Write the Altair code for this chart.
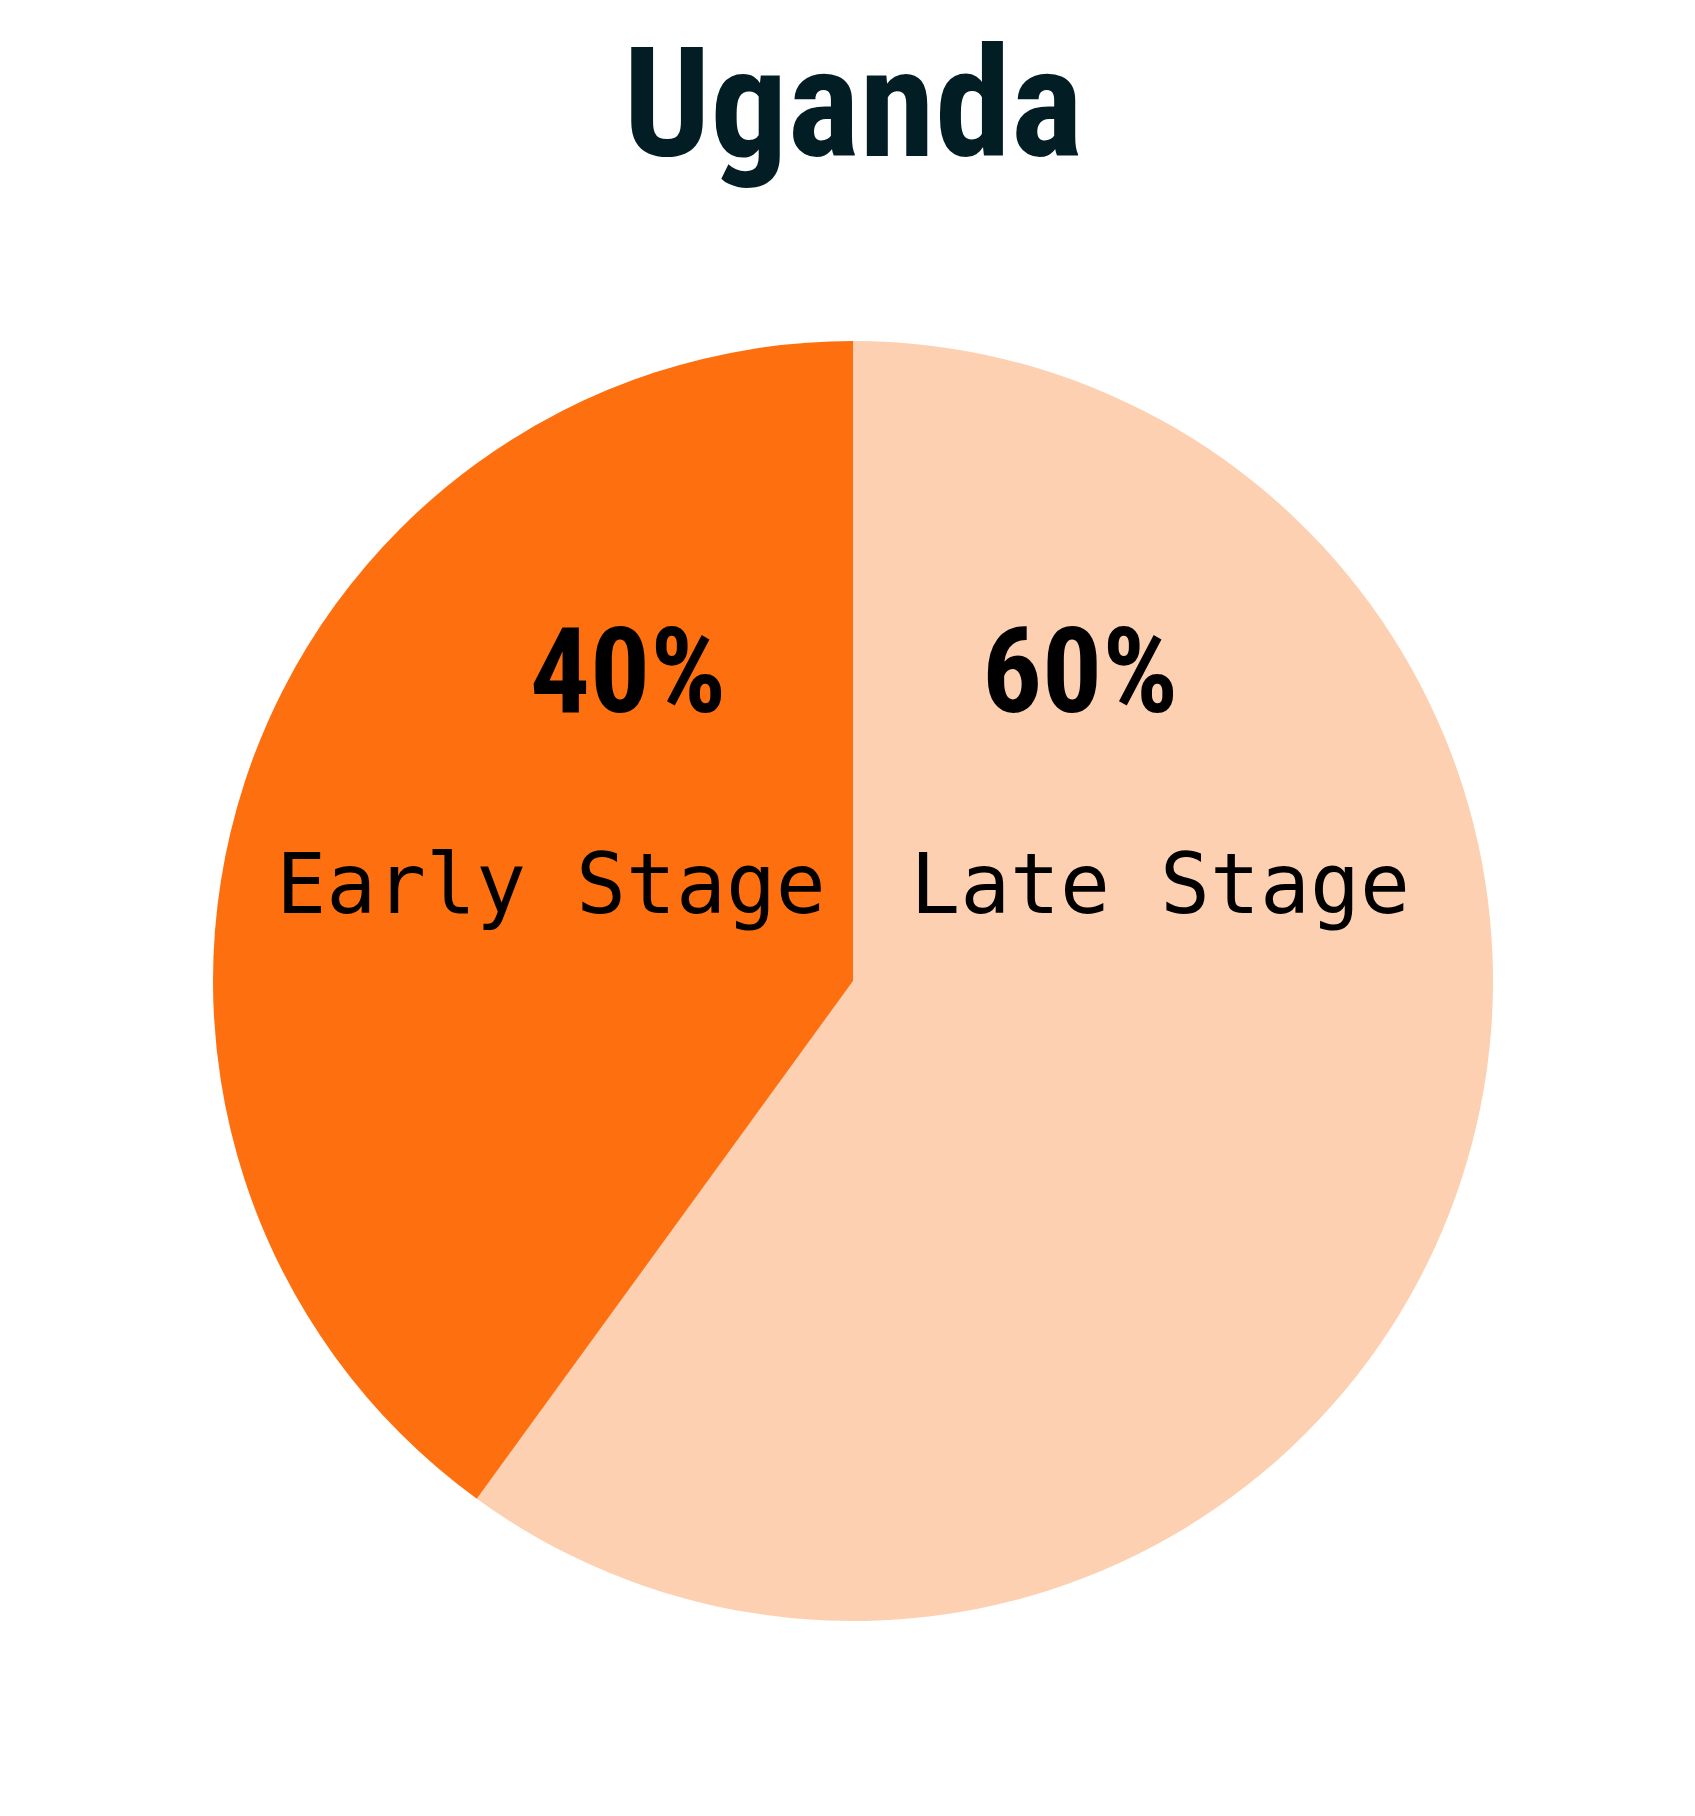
import altair as alt
import pandas as pd

# ---- data ----
categories = ["Late Stage", "Early Stage"]
shares = [60, 40]
colors = ["#fdd0b1", "#fe6f10"]
chart_title = "Uganda"

df = pd.DataFrame({"stage": categories, "share": shares, "rank": list(range(len(categories)))})

# ---- layout / style ----
W, H = 1679, 1800
CX, CY = 845, 973
R = 640
COND = "Roboto Condensed, Liberation Sans Narrow, Arial Narrow, sans-serif"
MONO = "DejaVu Sans Mono, monospace"
pct_pos = {"Late Stage": (1072, 704), "Early Stage": (620, 704)}
name_pos = {"Late Stage": (1152, 905), "Early Stage": (543, 905)}

pie = alt.Chart(df).mark_arc(radius=R, stroke=None).encode(
    theta=alt.Theta("share:Q", stack=True),
    color=alt.Color("stage:N", scale=alt.Scale(domain=categories, range=colors), legend=None),
    order=alt.Order("rank:Q"),
    x=alt.value(CX),
    y=alt.value(CY),
)

layers = [pie]
for cat in categories:
    px, py = pct_pos[cat]
    nx, ny = name_pos[cat]
    layers.append(
        alt.Chart(df).transform_filter(alt.datum.stage == cat)
        .transform_calculate(lbl="datum.share + '%'")
        .mark_text(font=COND, fontSize=119, fontWeight="bold", align="center",
                   baseline="alphabetic", color="#000000")
        .encode(text="lbl:N", x=alt.value(px), y=alt.value(py))
    )
    layers.append(
        alt.Chart(df).transform_filter(alt.datum.stage == cat)
        .mark_text(font=MONO, fontSize=83, align="center", baseline="alphabetic", color="#000000")
        .encode(text="stage:N", x=alt.value(nx), y=alt.value(ny))
    )

title_layer = alt.Chart(pd.DataFrame({"t": [chart_title]})).mark_text(
    font=COND, fontSize=153, fontWeight="bold", align="center", baseline="alphabetic", color="#021e24"
).encode(text="t:N", x=alt.value(CX), y=alt.value(148))
layers.append(title_layer)

chart = alt.layer(*layers).properties(
    width=W, height=H, padding=0, autosize="none", background="#ffffff"
).configure_view(stroke=None)

chart.save("out.html", embed_options={"renderer": "svg", "actions": False})
